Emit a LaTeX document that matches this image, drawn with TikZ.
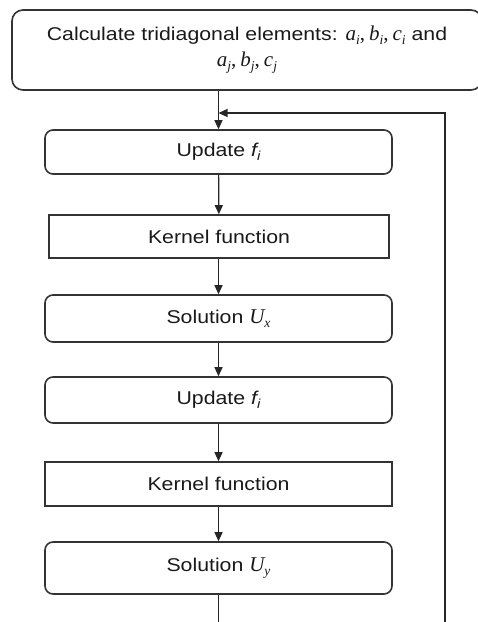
\documentclass[tikz,border=0pt]{standalone}
\usepackage{fontspec}
\setmainfont[FakeStretch=1.15]{Liberation Sans}
\newfontfamily\mserif{Liberation Serif}
\newcommand{\mvar}[2]{{\mserif\itshape #1}\raisebox{-0.35ex}{\fontsize{13.5}{13.5}\selectfont\mserif\itshape #2}}
\newcommand{\svar}[2]{{\itshape #1}\raisebox{-0.35ex}{\fontsize{13}{13}\selectfont\itshape #2}}
\newcommand{\mcomma}{{\mserif,}\hspace{4pt}}
\usetikzlibrary{arrows.meta}
\definecolor{edge}{HTML}{333333}
\begin{document}
\begin{tikzpicture}[x=1pt,y=-1pt,
  txt/.style={font=\fontsize{18.5}{26}\selectfont,text=black!90},
  mth/.style={},
  rbox/.style={draw=edge,line width=1.6pt,rounded corners=8pt,inner sep=0pt,txt,minimum width=347pt,align=center},
  sbox/.style={draw=edge,line width=1.6pt,inner sep=0pt,txt,minimum width=347pt,align=center},
  conn/.style={draw=black!85,line width=1.2pt},
  arr/.style={conn,-{Triangle[length=9pt,width=8pt]}}]
\useasboundingbox (0,0) rectangle (478,622);
\node[rbox,rounded corners=11pt,minimum width=470pt,minimum height=80pt] (top) at (247,50)
  {Calculate tridiagonal elements: {\fontsize{21}{26}\selectfont\mvar{a}{i}\mcomma\mvar{b}{i}\mcomma\mvar{c}{i}} and\\
   {\fontsize{21}{26}\selectfont\mvar{a}{j}\mcomma\mvar{b}{j}\mcomma\mvar{c}{j}}};
\node[rbox,minimum height=44pt] (upd1) at (218.5,152) {Update \svar{f}{i}};
\node[sbox,minimum width=340pt,minimum height=43pt] (ker1) at (219,236.5) {Kernel function};
\node[rbox,minimum height=47pt] (solx) at (218.5,318.5) {Solution {\fontsize{21}{26}\selectfont\mvar{U}{x}}};
\node[rbox,minimum height=46pt] (upd2) at (218.5,400) {Update \svar{f}{i}};
\node[sbox,minimum height=44pt] (ker2) at (218.5,484) {Kernel function};
\node[rbox,minimum height=52pt] (soly) at (218.5,568) {Solution {\fontsize{21}{26}\selectfont\mvar{U}{y}}};
\coordinate (bot) at (218.5,625);
\coordinate (fbstart) at (445,625);
\coordinate (fbcorner) at (445,113);
\coordinate (fbtip) at (218.5,113);
\draw[arr] (top.south -| upd1.north) -- (upd1.north);
\draw[arr] (upd1) -- (ker1);
\draw[arr] (ker1.south -| solx.north) -- (solx);
\draw[arr] (solx) -- (upd2);
\draw[arr] (upd2) -- (ker2);
\draw[arr] (ker2) -- (soly);
\draw[conn] (soly.south) -- (bot);
\draw[arr] (fbstart) -- (fbcorner) -- (fbtip);
\end{tikzpicture}
\end{document}
